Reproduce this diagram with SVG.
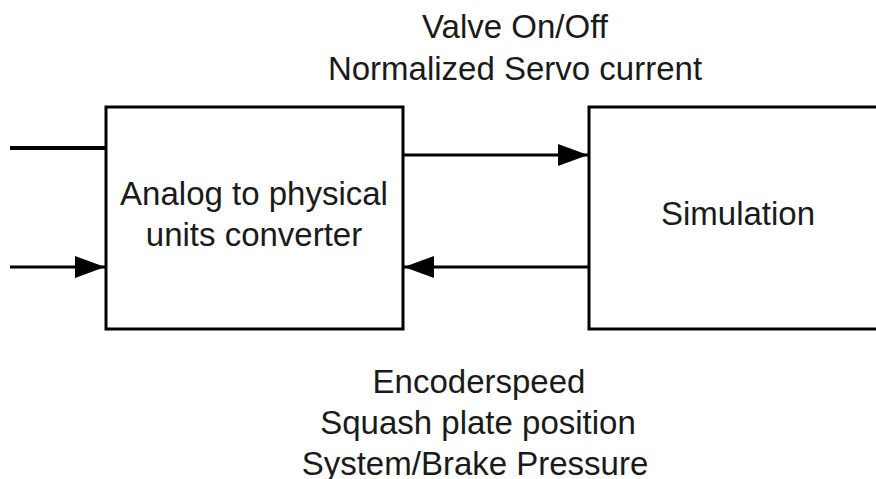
<svg xmlns="http://www.w3.org/2000/svg" width="876" height="479" viewBox="0 0 876 479">
  <style>
    .box { fill: #ffffff; stroke: #000000; stroke-width: 3; }
    .wire { fill: none; stroke: #000000; stroke-width: 3; }
    .thick { stroke-width: 4; }
    text { font-family: "Liberation Sans", Arial, sans-serif; font-size: 33px; fill: #1a1a1a; text-anchor: middle; }
  </style>
  <defs>
    <marker id="arrow" viewBox="0 0 30 22" refX="30" refY="11" markerWidth="30" markerHeight="22" markerUnits="userSpaceOnUse" orient="auto">
      <path d="M0,0 L30,11 L0,22 Z" fill="#000000"/>
    </marker>
  </defs>

  <g id="converter">
    <rect class="box" x="106" y="107" width="297" height="222"/>
    <text x="254" y="205">Analog to physical</text>
    <text x="254" y="246">units converter</text>
  </g>

  <g id="simulation">
    <rect class="box" x="589" y="107" width="300" height="222"/>
    <text x="738" y="225">Simulation</text>
  </g>

  <g id="connectors">
    <line class="wire thick" x1="10" y1="148" x2="106" y2="148"/>
    <line class="wire" x1="10" y1="267" x2="105" y2="267" marker-end="url(#arrow)"/>
    <line class="wire" x1="403" y1="155" x2="588" y2="155" marker-end="url(#arrow)"/>
    <line class="wire" x1="589" y1="267" x2="404" y2="267" marker-end="url(#arrow)"/>
  </g>

  <g id="labels">
    <text x="515" y="38">Valve On/Off</text>
    <text x="515" y="80">Normalized Servo current</text>
    <text x="479" y="393">Encoderspeed</text>
    <text x="478" y="434">Squash plate position</text>
    <text x="475" y="475">System/Brake Pressure</text>
  </g>
</svg>
